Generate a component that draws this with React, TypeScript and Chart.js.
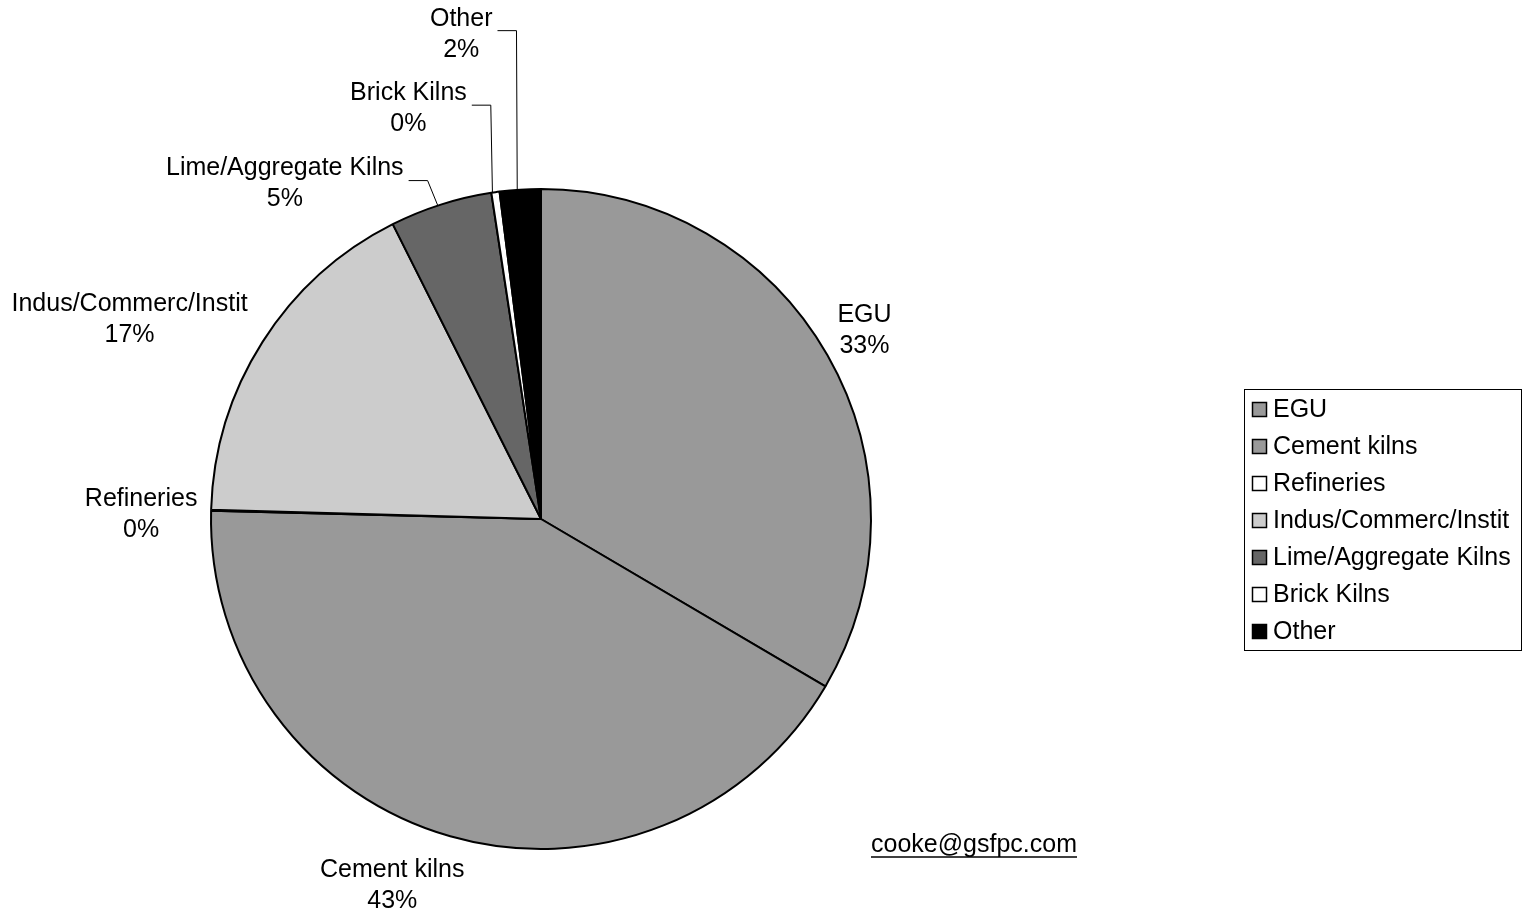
import React, { useEffect, useRef } from "react";
import { Chart, registerables } from "chart.js";

Chart.register(...registerables);

const categories = ["EGU", "Cement kilns", "Refineries", "Indus/Commerc/Instit", "Lime/Aggregate Kilns", "Brick Kilns", "Other"];
const shares = [33.4, 41.85, 0.05, 17.1, 5.0, 0.4, 2.0];
const pctLabels = ["33%", "43%", "0%", "17%", "5%", "0%", "2%"];
const sliceColors = ["#999999", "#999999", "#ffffff", "#cccccc", "#666666", "#ffffff", "#000000"];
const email = "cooke@gsfpc.com";

// label placement relative to the arc's outer mid point: [dx, dy, leader]
const labelOffsets: [number, number, boolean][] = [
  [37, -27, false],
  [-58, 47, false],
  [-70, 2, false],
  [-133, -25, false],
  [-156, -23, true],
  [-87, -86, true],
  [-59, -158, true],
];

const FONT = "25px 'Liberation Sans', Arial, sans-serif";

const overlayPlugin = {
  id: "overlay",
  afterDraw(chart: any) {
    const ctx = chart.ctx as CanvasRenderingContext2D;
    const meta = chart.getDatasetMeta(0);
    ctx.save();
    ctx.font = FONT;
    ctx.fillStyle = "#000";
    ctx.textAlign = "center";
    ctx.textBaseline = "middle";
    meta.data.forEach((arc: any, i: number) => {
      const p = arc.getProps(["x", "y", "startAngle", "endAngle", "outerRadius"], true);
      const mid = (p.startAngle + p.endAngle) / 2;
      const ax = p.x + Math.cos(mid) * p.outerRadius;
      const ay = p.y + Math.sin(mid) * p.outerRadius;
      const [dx, dy, leader] = labelOffsets[i];
      const cx = ax + dx;
      const cy = ay + dy;
      ctx.fillText(categories[i], cx, cy - 13);
      ctx.fillText(pctLabels[i], cx, cy + 18);
      if (leader) {
        const w = ctx.measureText(categories[i]).width;
        const x1 = cx + w / 2 + 5;
        const y1 = cy - 1;
        ctx.beginPath();
        ctx.strokeStyle = "#000";
        ctx.lineWidth = 1;
        ctx.moveTo(x1, y1);
        ctx.lineTo(x1 + 19, y1);
        ctx.lineTo(ax - 3, ay + 1);
        ctx.stroke();
      }
    });

    // legend
    const lx = 1244, ly = 389, lw = 277, lh = 261;
    ctx.strokeStyle = "#000";
    ctx.lineWidth = 1;
    ctx.strokeRect(lx + 0.5, ly + 0.5, lw, lh);
    ctx.textAlign = "left";
    categories.forEach((c, i) => {
      const yc = ly + 20 + i * 37;
      ctx.fillStyle = sliceColors[i];
      ctx.fillRect(lx + 8, yc - 7, 15, 15);
      ctx.strokeStyle = "#000";
      ctx.lineWidth = 1.5;
      ctx.strokeRect(lx + 8.5, yc - 6.5, 14, 14);
      ctx.fillStyle = "#000";
      ctx.fillText(c, lx + 29, yc + 1);
    });

    // email
    ctx.textAlign = "center";
    const ex = 974, ey = 845;
    ctx.fillText(email, ex, ey);
    const ew = ctx.measureText(email).width;
    ctx.beginPath();
    ctx.lineWidth = 1.5;
    ctx.moveTo(ex - ew / 2, ey + 12);
    ctx.lineTo(ex + ew / 2, ey + 12);
    ctx.stroke();
    ctx.restore();
  },
};

export default function App() {
  const ref = useRef<HTMLCanvasElement | null>(null);
  useEffect(() => {
    if (!ref.current) return;
    const chart = new Chart(ref.current, {
      type: "pie",
      data: {
        labels: categories,
        datasets: [
          {
            data: shares,
            backgroundColor: sliceColors,
            borderColor: "#000",
            borderWidth: 2,
          },
        ],
      },
      options: {
        responsive: false,
        animation: false,
        layout: { padding: { left: 210, right: 656, top: 188, bottom: 62 } },
        plugins: { legend: { display: false }, tooltip: { enabled: false } },
      },
      plugins: [overlayPlugin],
    });
    return () => chart.destroy();
  }, []);
  return (
    <div style={{ position: "fixed", left: 0, top: 0, width: 1528, height: 912, background: "#fff" }}>
      <canvas ref={ref} width={1528} height={912} />
    </div>
  );
}
